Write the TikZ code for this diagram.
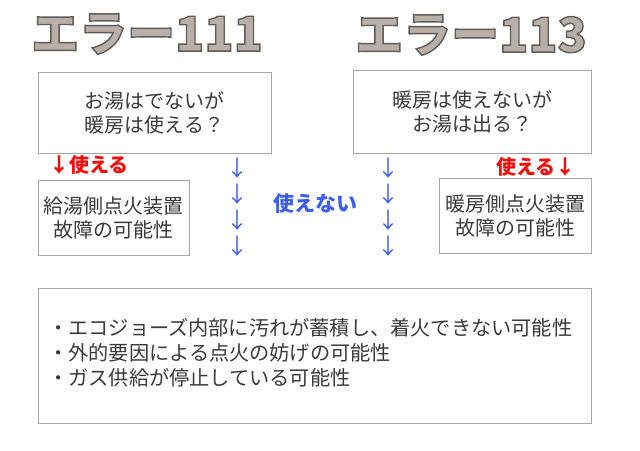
\documentclass[tikz,border=0pt]{standalone}
\usepackage{fontspec}
\setmainfont{Noto Sans CJK JP}
\definecolor{boxgray}{HTML}{A6A6A6}
\definecolor{txt}{HTML}{3A3A3A}
\definecolor{titlefill}{HTML}{B7AFA8}
\definecolor{redtxt}{HTML}{F01010}
\definecolor{bluetxt}{HTML}{3F5FEA}
\newcommand\outlinetext[1]{\special{pdf:code 2 Tr 1.4 w 0.38 0.36 0.34 RG}#1\special{pdf:code 0 Tr 0.4 w}}
\begin{document}
\begin{tikzpicture}[x=1pt,y=-1pt,
  box/.style={draw=boxgray,line width=0.8pt,inner sep=0pt,text=txt,align=center,font=\fontsize{20}{24}\selectfont},
  title/.style={text=titlefill,inner sep=0pt,font=\fontsize{48}{48}\selectfont\bfseries},
  redlab/.style={text=redtxt,inner sep=0pt,font=\fontsize{20}{24}\selectfont\bfseries},
  bluearrow/.style={text=bluetxt,inner sep=0pt,font=\fontsize{22}{24}\selectfont},
  bluelab/.style={text=bluetxt,inner sep=0pt,font=\fontsize{21}{24}\selectfont\bfseries}]
\useasboundingbox (0,0) rectangle (640,450);
\fill[white] (0,0) rectangle (640,450);
% boxes
\node[box,minimum width=233pt,minimum height=81pt] (b1) at (154.5,112.5) {お湯はでないが\\暖房は使える？};
\node[box,minimum width=238pt,minimum height=83pt] (b2) at (472,111.5) {暖房は使えないが\\お湯は出る？};
\node[box,minimum width=151pt,minimum height=75pt] (b3) at (113.5,217.5) {給湯側点火装置\\故障の可能性};
\node[box,minimum width=152pt,minimum height=75pt] (b4) at (515,215.5) {暖房側点火装置\\故障の可能性};
\node[box,minimum width=553pt,minimum height=135pt] (b5) at (314.5,355.5) {};
\node[anchor=west,inner sep=0pt,text=txt,align=left,font=\fontsize{20.2}{25}\selectfont] (list) at (48,353)
  {・エコジョーズ内部に汚れが蓄積し、着火できない可能性\\・外的要因による点火の妨げの可能性\\・ガス供給が停止している可能性};
% labels
\node[redlab] (r1) at (89,165) {↓使える};
\node[redlab] (r2) at (536,167) {使える↓};
\node[bluelab] (nu) at (315,203) {使えない};
\foreach \y [count=\i] in {168,194,220,246}{
  \node[bluearrow] (la\i) at (237,\y) {↓};
  \node[bluearrow] (ra\i) at (388,\y) {↓};
}
% titles
\node[title] (t1) at (147,34) {\outlinetext{エラー111}};
\node[title] (t2) at (471,35) {\outlinetext{エラー113}};
\end{tikzpicture}
\end{document}
